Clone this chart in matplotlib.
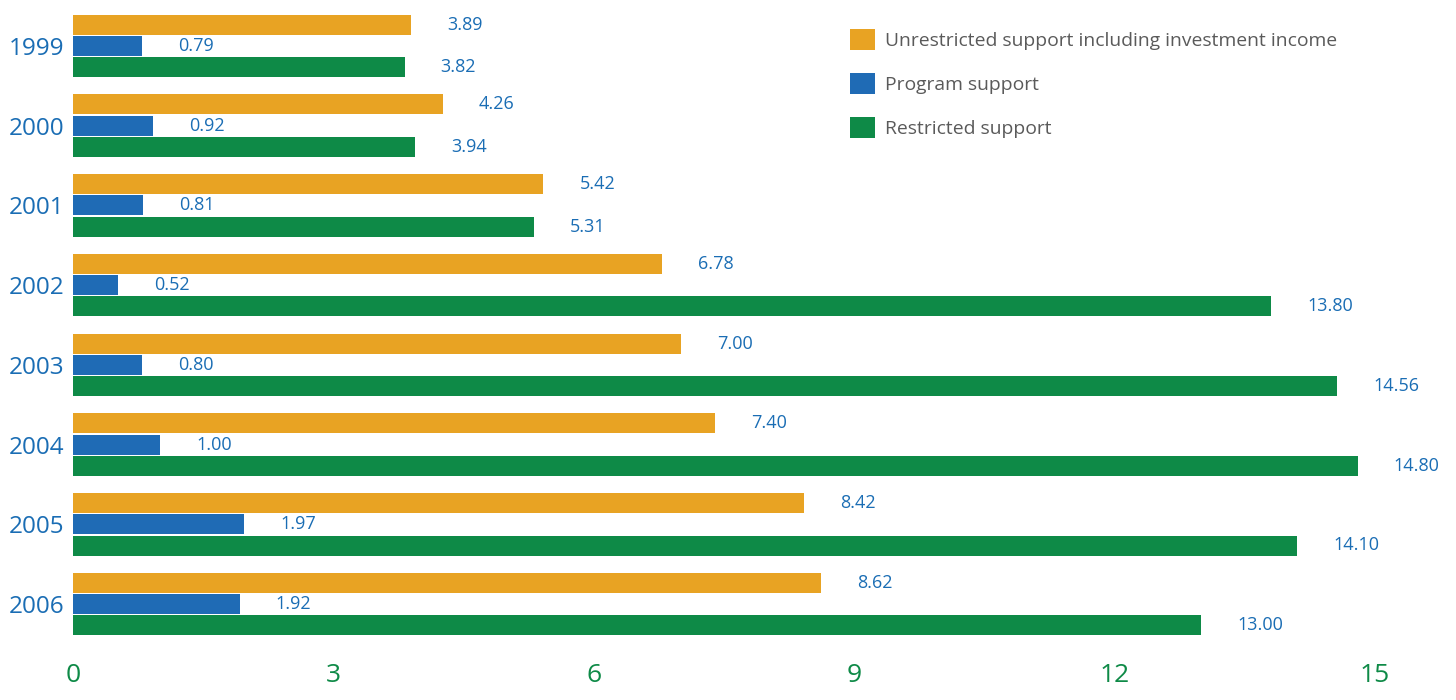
import matplotlib
matplotlib.use("Agg")
import matplotlib.pyplot as plt
import numpy as np

years = ["1999", "2000", "2001", "2002", "2003", "2004", "2005", "2006"]
unrestricted = [3.89, 4.26, 5.42, 6.78, 7.00, 7.40, 8.42, 8.62]
program = [0.79, 0.92, 0.81, 0.52, 0.80, 1.00, 1.97, 1.92]
restricted = [3.82, 3.94, 5.31, 13.80, 14.56, 14.80, 14.10, 13.00]
series_names = [
    "Unrestricted support including investment income",
    "Program support",
    "Restricted support",
]
x_ticks = [0, 3, 6, 9, 12, 15]

ORANGE = "#E8A323"
BLUE = "#1F6BB5"
GREEN = "#0E8A47"
LABEL_BLUE = "#1A6DB4"
LEGEND_GRAY = "#5A5A5A"

plt.rcParams["font.family"] = ["Open Sans", "DejaVu Sans"]

W, H = 1456, 700
fig = plt.figure(figsize=(W / 100, H / 100), dpi=100)
ax_left, ax_right = 73, 1375
ax_top, ax_bottom = 0, 660
ax = fig.add_axes([ax_left / W, 1 - ax_bottom / H,
                   (ax_right - ax_left) / W, (ax_bottom - ax_top) / H])

pitch = 79.7
bar_h = 20.0 / pitch
step = 21.3 / pitch
y = np.arange(len(years))

series = [unrestricted, program, restricted]
colors = [ORANGE, BLUE, GREEN]
offsets = [-step, 0.0, step]

for vals, col, off, name in zip(series, colors, offsets, series_names):
    bars = ax.barh(y + off, vals, height=bar_h, color=col, label=name,
                   linewidth=0)
    for b, v in zip(bars, vals):
        ax.annotate(f"{v:.2f}", xy=(v, b.get_y() + b.get_height() / 2),
                    xytext=(26, 0), textcoords="offset points",
                    ha="left", va="center", fontsize=13, color=LABEL_BLUE)

ax.set_xlim(0, 15)
ax.set_ylim((ax_bottom - 46) / pitch, -46 / pitch)
ax.set_xticks(x_ticks)
ax.set_xticklabels([str(t) for t in x_ticks])
ax.set_yticks(y)
ax.set_yticklabels(years)
ax.tick_params(axis="x", length=0, pad=2, labelsize=19, labelcolor=GREEN)
ax.tick_params(axis="y", length=0, pad=6, labelsize=17.5, labelcolor=LABEL_BLUE)
for s in ax.spines.values():
    s.set_visible(False)
ax.set_facecolor("white")

leg = ax.legend(loc="upper left", bbox_to_anchor=(850 / W, 1 - 29 / H),
                bbox_transform=fig.transFigure, frameon=False, fontsize=13.9,
                handlelength=1.3, handleheight=1.3, handletextpad=0.52,
                labelspacing=1.2, borderpad=0, borderaxespad=0)
for t in leg.get_texts():
    t.set_color(LEGEND_GRAY)

fig.savefig("out.png", dpi=100, facecolor="white")
